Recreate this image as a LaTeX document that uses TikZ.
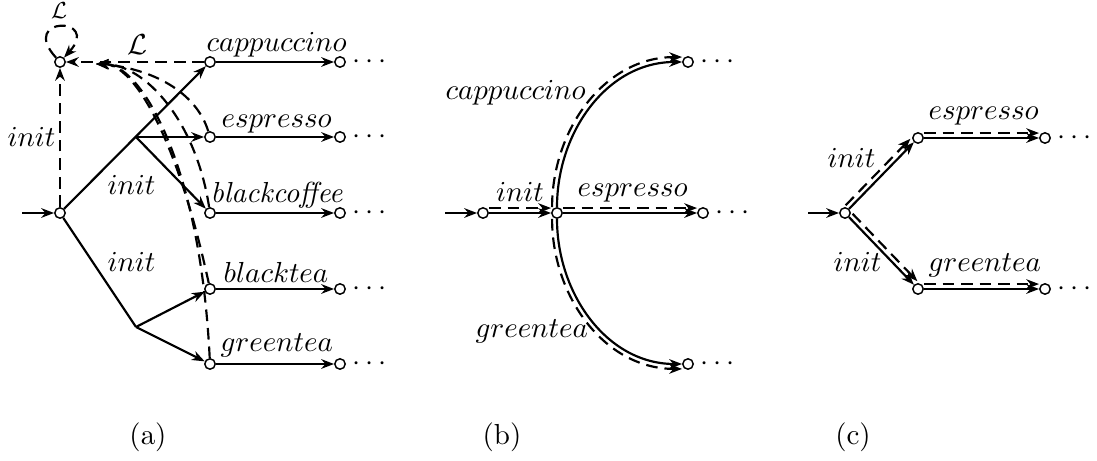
\documentclass[tikz,border=0pt]{standalone}
\usetikzlibrary{arrows.meta}
\begin{document}
\begin{tikzpicture}[x=0.345pt,y=0.345pt,
  st/.style={circle,draw,line width=0.5pt,minimum size=3.6pt,inner sep=0pt,fill=white},
  tip/.style={-{Stealth[length=4.4pt,width=3.3pt,inset=1.4pt]}},
  ln/.style={line width=0.75pt},
  dl/.style={line width=0.75pt,dash pattern=on 4pt off 2.4pt},
  lab/.style={inner sep=0pt,anchor=base west},
  labc/.style={inner sep=0pt,anchor=base},
  dots/.style={inner sep=0pt,anchor=base west}]
\useasboundingbox (0,0) rectangle (1097,461);
% ---------------- panel (a) ----------------
\node[st] (L) at (60,399) {};
\node[st] (s0) at (60,248) {};
\coordinate (ina) at (22,248);
\node[st] (c1) at (210,399) {}; \node[st] (c2) at (340,399) {};
\node[st] (e1) at (210,324) {}; \node[st] (e2) at (340,324) {};
\node[st] (bc1) at (210,248) {}; \node[st] (bc2) at (340,248) {};
\node[st] (bt1) at (210,172) {}; \node[st] (bt2) at (340,172) {};
\node[st] (g1) at (210,97) {}; \node[st] (g2) at (340,97) {};
\coordinate (b1) at (136,324);
\coordinate (b2) at (136,134);
\coordinate (Lin) at (96,397);

\draw[ln,tip] (ina) -- (s0);
\draw[ln,tip] (s0) -- (c1);
\draw[ln,tip] (b1) -- (e1);
\draw[ln,tip] (b1) -- (bc1);
\draw[ln] (s0) -- (b2);
\draw[ln,tip] (b2) -- (bt1);
\draw[ln,tip] (b2) -- (g1);
\draw[ln,tip] (c1) -- (c2);
\draw[ln,tip] (e1) -- (e2);
\draw[ln,tip] (bc1) -- (bc2);
\draw[ln,tip] (bt1) -- (bt2);
\draw[ln,tip] (g1) -- (g2);

\draw[dl,tip] (s0) -- (L);
\draw[dl,tip] (c1) -- (L);
\draw[dl,tip] (L) .. controls +(-42,46) and +(42,46) .. (L);
\draw[dl,tip] (e1) .. controls (196,370) and (150,393) .. (Lin);
\draw[dl,tip] (bc1) .. controls (196,340) and (145,397) .. (Lin);
\draw[dl,tip] (bt1) .. controls (178,320) and (135,397) .. (Lin);
\draw[dl,tip] (g1) .. controls (200,300) and (140,398) .. (Lin);

\node[dots] (d1) at (352,392) {$\cdots$};
\node[dots] (d2) at (352,317) {$\cdots$};
\node[dots] (d3) at (352,241) {$\cdots$};
\node[dots] (d4) at (352,165) {$\cdots$};
\node[dots] (d5) at (352,90) {$\cdots$};

\node[lab] (tc) at (206,409) {$cappuccino$};
\node[lab] (te) at (221,333) {$espresso$};
\node[lab] (tbc) at (210,258) {\textit{blackcoffee}};
\node[lab] (tbt) at (223,178) {$blacktea$};
\node[lab] (tg) at (220,109) {$greentea$};
\node[lab] (ti1) at (7,314) {$init$};
\node[lab] (ti2) at (107,266) {$init$};
\node[lab] (ti3) at (107,189) {$init$};
\node[labc,scale=0.8] (tL1) at (59,442) {$\mathcal{L}$};
\node[labc] (tL2) at (137,406) {$\mathcal{L}$};
\node (capa) at (148,24) {(a)};

% ---------------- panel (b) ----------------
\node[st] (ib) at (483,248) {};
\node[st] (cb) at (557,248) {};
\node[st] (eb) at (703,248) {};
\node[st] (capb) at (688,399) {};
\node[st] (gb) at (688,97) {};
\coordinate (inb) at (445,248);
\draw[ln,tip] (inb) -- (ib);
\draw[ln,tip] (ib) -- (cb);
\draw[dl,tip,transform canvas={yshift=1.7pt}] (ib) -- (cb);
\draw[ln,tip] (cb) -- (eb);
\draw[dl,tip,transform canvas={yshift=1.7pt}] (cb) -- (eb);
\draw[ln,tip] (cb) to[out=90,in=180] (capb);
\draw[dl,tip] ([xshift=-1.7pt]cb.north) to[out=90,in=180] ([yshift=1.7pt]capb.west);
\draw[ln,tip] (cb) to[out=-90,in=180] (gb);
\draw[dl,tip] ([xshift=-1.7pt]cb.south) to[out=-90,in=180] ([yshift=-1.7pt]gb.west);
\node[dots] (d6) at (715,241) {$\cdots$};
\node[dots] (d7) at (700,392) {$\cdots$};
\node[dots] (d8) at (700,90) {$\cdots$};
\node[labc] (tib) at (520,259) {$init$};
\node[lab] (teb) at (577,264) {$espresso$};
\node[lab] (tcb) at (445,361) {$cappuccino$};
\node[lab] (tgb) at (475,123) {$greentea$};
\node (capb2) at (502,24) {(b)};

% ---------------- panel (c) ----------------
\node[st] (sc) at (845,248) {};
\node[st] (ec1) at (918,323) {}; \node[st] (ec2) at (1045,323) {};
\node[st] (gc1) at (918,172) {}; \node[st] (gc2) at (1045,172) {};
\coordinate (inc) at (808,248);
\draw[ln,tip] (inc) -- (sc);
\draw[ln,tip] (sc) -- (ec1);
\draw[dl,tip,transform canvas={shift={(-1.2pt,1.2pt)}}] (sc) -- (ec1);
\draw[ln,tip] (sc) -- (gc1);
\draw[dl,tip,transform canvas={shift={(1.2pt,1.2pt)}}] (sc) -- (gc1);
\draw[ln,tip] (ec1) -- (ec2);
\draw[dl,tip,transform canvas={yshift=1.7pt}] (ec1) -- (ec2);
\draw[ln,tip] (gc1) -- (gc2);
\draw[dl,tip,transform canvas={yshift=1.7pt}] (gc1) -- (gc2);
\node[dots] (d9) at (1057,316) {$\cdots$};
\node[dots] (d10) at (1057,165) {$\cdots$};
\node[lab] (tic1) at (827,293) {$init$};
\node[lab] (tic2) at (833,189) {$init$};
\node[lab] (tec) at (928,341) {$espresso$};
\node[lab] (tgc) at (928,189) {$greentea$};
\node (capc) at (853,24) {(c)};
\end{tikzpicture}
\end{document}
